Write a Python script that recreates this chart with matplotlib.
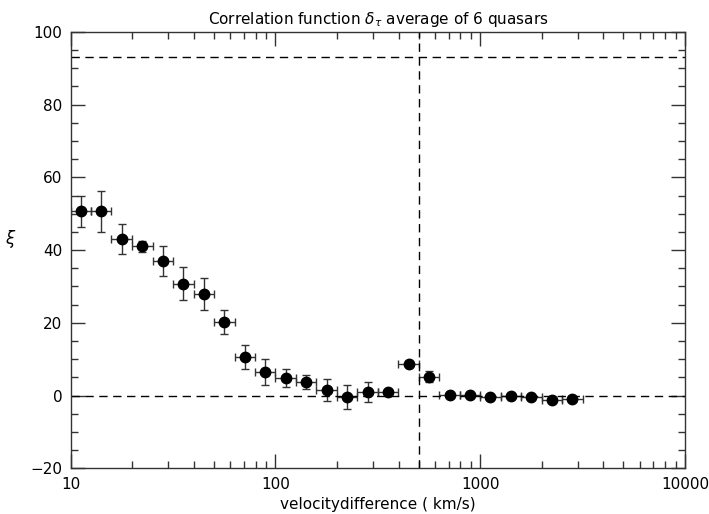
import numpy as np
import matplotlib
matplotlib.use('Agg')
import matplotlib.pyplot as plt
from matplotlib.ticker import FixedLocator, NullFormatter, MultipleLocator

# bin centres and edges (km/s)
vel = [11.2, 14.1, 17.8, 22.4, 28.2, 35.5, 44.7, 56.2, 70.8, 89.1,
       112, 141, 178, 224, 282, 355, 447, 562, 708, 891,
       1122, 1413, 1778, 2239, 2818]
vel_lo = [10, 12.6, 15.8, 20.0, 25.1, 31.6, 39.8, 50.1, 63.1, 79.4,
          100, 126, 158, 200, 251, 316, 398, 501, 631, 794,
          1000, 1259, 1585, 1995, 2512]
vel_hi = [12.6, 15.8, 20.0, 25.1, 31.6, 39.8, 50.1, 63.1, 79.4, 100,
          126, 158, 200, 251, 316, 398, 501, 631, 794, 1000,
          1259, 1585, 1995, 2512, 3162]

# correlation values and errors
xi = [50.7, 50.7, 43.1, 41.0, 36.9, 30.8, 27.9, 20.2, 10.6, 6.5,
      4.9, 3.8, 1.6, -0.4, 1.0, 0.9, 8.6, 5.2, 0.1, 0.2,
      -0.4, 0.0, -0.5, -1.1, -0.9]
xi_err = [4.3, 5.6, 4.1, 1.5, 4.1, 4.5, 4.4, 3.4, 3.3, 3.5,
          2.5, 1.9, 3.0, 3.4, 2.8, 0.5, 0.8, 1.5, 0.4, 0.4,
          0.4, 0.4, 0.4, 0.4, 0.4]

hline_top = 93
vline = 500

plt.rcParams['font.family'] = ['DejaVu Sans']

fig = plt.figure(figsize=(7.09, 5.14), dpi=100)
ax = fig.add_axes([0.0998, 0.089, 0.8663, 0.849])

vel = np.array(vel)
xerr = [vel - np.array(vel_lo), np.array(vel_hi) - vel]
ax.errorbar(vel, xi, yerr=xi_err, xerr=xerr, fmt='o', color='black',
            ecolor='#333333', elinewidth=1.0, capsize=3, capthick=1.0,
            markersize=7.5)

dash = (0, (6, 4))
ax.axhline(0, color='black', lw=1.0, linestyle=dash)
ax.axhline(hline_top, color='black', lw=1.0, linestyle=dash)
ax.axvline(vline, color='black', lw=1.0, linestyle=dash)

ax.set_xscale('log')
ax.set_xlim(10, 10000)
ax.set_ylim(-20, 100)

ax.xaxis.set_major_locator(FixedLocator([10, 100, 1000, 10000]))
ax.set_xticklabels(['10', '100', '1000', '10000'])
minors = [m * d for d in (10, 100, 1000) for m in range(2, 10)]
ax.xaxis.set_minor_locator(FixedLocator(minors))
ax.xaxis.set_minor_formatter(NullFormatter())
ax.yaxis.set_major_locator(MultipleLocator(20))
ax.yaxis.set_minor_locator(MultipleLocator(5))

ax.tick_params(which='both', direction='in', top=True, right=True,
               labelsize=11, color='#333333')
ax.tick_params(which='major', length=10, width=1, pad=6)
ax.tick_params(which='minor', length=5, width=1)
for s in ax.spines.values():
    s.set_linewidth(1.0)
    s.set_color('#333333')

ax.set_title(r'Correlation function $\delta_{\tau}$ average of 6 quasars',
             fontsize=11, pad=6)
ax.set_xlabel('velocitydifference ( km/s)', fontsize=11, labelpad=4)
ax.set_ylabel(r'$\xi$', fontsize=12, rotation=0, labelpad=14)

fig.savefig('out.png', dpi=100)
